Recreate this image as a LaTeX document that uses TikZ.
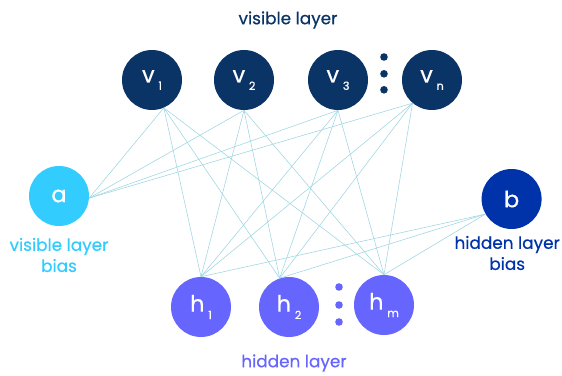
\documentclass[tikz,border=0pt]{standalone}
\usepackage{fontspec}
\setmainfont{Poppins}[FakeBold=0.6]
\usetikzlibrary{positioning,calc}

\definecolor{visblue}{HTML}{0B3466}
\definecolor{abias}{HTML}{33CCFF}
\definecolor{bbias}{HTML}{0033AA}
\definecolor{hidpurple}{HTML}{6666FF}
\definecolor{wirecol}{HTML}{9ED6E2}

\newcommand{\lsub}[1]{\,\raisebox{-0.6ex}{\fontsize{8}{9}\selectfont #1}}

\tikzset{
  unit/.style={circle,minimum size=1.5cm,inner sep=0pt,text=white,
    font=\fontsize{16}{18}\selectfont},
  vunit/.style={unit,fill=visblue},
  hunit/.style={unit,fill=hidpurple},
  wire/.style={draw=wirecol,line width=0.4pt},
  smalldot/.style={circle,inner sep=0pt,minimum size=0.19cm},
  ttl/.style={font=\fontsize{12}{15}\selectfont,align=center}
}

\begin{document}
\begin{tikzpicture}
      \useasboundingbox (0,0) rectangle (14.05,9.375);

      \coordinate (v1c) at (3.8,7.375);
      \coordinate (v2c) at (6.1,7.375);
      \coordinate (v3c) at (8.45,7.375);
      \coordinate (vnc) at (10.8,7.375);
      \coordinate (ac) at (1.475,4.475);
      \coordinate (bc) at (12.79,4.4);
      \coordinate (h1c) at (5.025,1.7);
      \coordinate (h2c) at (7.225,1.7);
      \coordinate (hmc) at (9.6,1.75);

      % visible units
      \node[vunit] (v1) at (v1c) {v\lsub{1}};
      \node[vunit] (v2) at (v2c) {v\lsub{2}};
      \node[vunit] (v3) at (v3c) {v\lsub{3}};
      \node[vunit] (vn) at (vnc) {v\lsub{n}};
      \node[smalldot,fill=visblue] (vd1) at (9.6,7.95) {};
      \node[smalldot,fill=visblue] (vd2) at (9.6,7.53) {};
      \node[smalldot,fill=visblue] (vd3) at (9.6,7.13) {};

      % biases
      \node[unit,fill=abias] (a) at (ac) {a};
      \node[unit,fill=bbias] (b) at (bc) {b};

      % hidden units
      \node[hunit] (h1) at (h1c) {h\lsub{1}};
      \node[hunit] (h2) at (h2c) {h\lsub{2}};
      \node[hunit] (hm) at (hmc) {h\lsub{m}};
      \node[smalldot,fill=hidpurple] (hd1) at (8.475,2.2) {};
      \node[smalldot,fill=hidpurple] (hd2) at (8.475,1.75) {};
      \node[smalldot,fill=hidpurple] (hd3) at (8.475,1.325) {};

      % labels
      \node[ttl,text=visblue] (vislab) at (7.2,8.875) {visible layer};
      \node[ttl,text=hidpurple] (hidlab) at (7.35,0.3) {hidden layer};
      \node[ttl,text=abias] (alab) at (1.475,3.0) {visible layer\\bias};
      \node[ttl,text=bbias] (blab) at (12.68,3.05) {hidden layer\\bias};

      % connections
      \coordinate (v1o) at (v1.-67);
      \coordinate (v2o) at (v2.south);
      \coordinate (v3o) at (v3.south);
      \coordinate (vno) at (vn.-130);
      \coordinate (h1o) at (h1.north);
      \coordinate (h2o) at (h2.108);
      \coordinate (hmo) at (hm.north);
      \coordinate (ao) at (a.-4);
      \coordinate (bo) at (b.210);

      \foreach \v in {v1o,v2o,v3o,vno} {
        \draw[wire] (ao) -- (\v);
        \foreach \h in {h1o,h2o,hmo}
          \draw[wire] (\v) -- (\h);
      }
      \foreach \h in {h1o,h2o,hmo}
        \draw[wire] (bo) -- (\h);

\end{tikzpicture}
\end{document}
